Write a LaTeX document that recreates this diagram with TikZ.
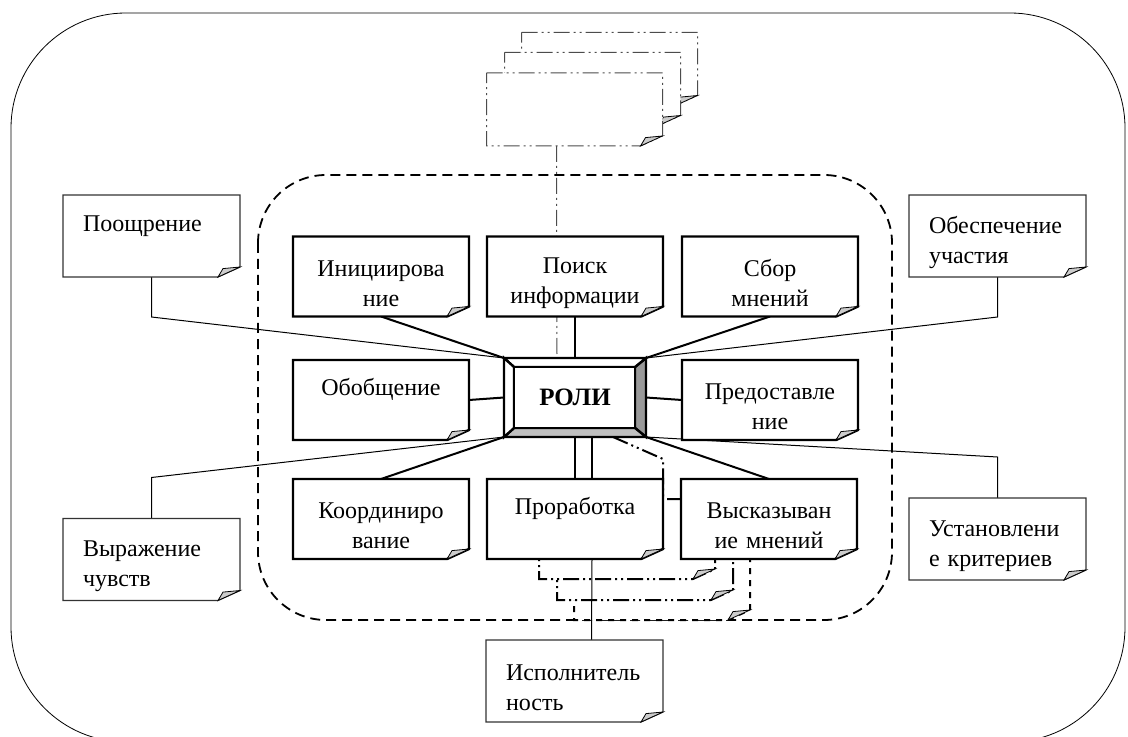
\documentclass[tikz,border=0pt]{standalone}
\usepackage{fontspec}
\setmainfont{Liberation Serif}
\usepackage{tikz}
\pgfdeclarelayer{back}
\pgfdeclarelayer{shapes}
\pgfsetlayers{back,shapes,main}
\tikzset{
every picture/.style={
line width=1pt
}}
\tikzset{
  rolebox/.style={minimum width=88pt, minimum height=40pt, text width=84pt,
    align=center, inner sep=0pt, outer sep=0pt,
    execute at begin node={\rule{0pt}{15pt}}},
  notebox/.style={minimum width=88.5pt, minimum height=41pt, text width=68.5pt,
    align=left, inner sep=0pt, outer sep=0pt,
    execute at begin node={\rule{0pt}{15pt}}},
  pagebox/.style={minimum width=88pt, minimum height=36.5pt, inner sep=0pt, outer sep=0pt},
  stackbox/.style={minimum width=88pt, minimum height=40pt, inner sep=0pt, outer sep=0pt},
  conn/.style={line width=1pt},
  thinconn/.style={line width=0.5pt},
  dashdotdot/.style={dash pattern=on 8pt off 2pt on 1pt off 2pt on 1pt off 2pt},
}
\newcommand{\foldpage}[2][]{%
  \filldraw[fill=white,#1] (#2.north west) -- (#2.north east) -- ([yshift=5pt]#2.south east)
    -- ([xshift=-11pt]#2.south east) -- (#2.south west) -- cycle;
  \filldraw[fill=gray!40,line width=0.4pt] ([xshift=-11pt]#2.south east)
    .. controls ([shift={(-9.5pt,2.5pt)}]#2.south east) .. ([shift={(-8.5pt,4.2pt)}]#2.south east)
    -- ([yshift=5pt]#2.south east) -- cycle;
}

\begin{document}
\begin{tikzpicture}[x=0.5pt,y=-0.5pt,font=\fontsize{12pt}{15pt}\selectfont]
\useasboundingbox (0,0) rectangle (1128,737);
% roles round the centre
\node[rolebox] (ini)    at (381,276.5) {Инициирова\\ние};
\node[rolebox] (poisk)  at (575,276.5) {Поиск\\информации};
\node[rolebox] (sbor)   at (770,276.5) {Сбор\\мнений};
\node[rolebox] (obob)   at (381,400)   {Обобщение\\\strut};
\node[minimum width=71pt, minimum height=39.5pt, inner sep=0pt, outer sep=0pt,
  font=\fontsize{12.5pt}{15pt}\selectfont\bfseries] (roli) at (575,397.5) {РОЛИ};
\node[rolebox] (pred)   at (770,400)   {Предоставле\\ние};
\node[rolebox] (koord)  at (381,519)   {Координиро\\вание};
\node[rolebox] (prorab) at (575,519)   {Проработка\\\strut};
\node[rolebox] (vysk)   at (769,519)   {Высказыван\\ие мнений};
% notes outside
\node[notebox] (poo) at (151.5,236)   {Поощрение\\\strut};
\node[notebox] (obe) at (997.5,236)   {Обеспечение\\участия};
\node[notebox] (vyr) at (151.5,559.5) {Выражение\\чувств};
\node[notebox] (ust) at (997.5,539)   {Установлени\\е критериев};
\node[notebox] (isp) at (574.5,681)   {Исполнитель\\ность};
% stacked pages
\node[pagebox] (pg3) at (609.5,69) {};
\node[pagebox] (pg2) at (592.5,89) {};
\node[pagebox] (pg1) at (574.5,109.5) {};
\node[stackbox] (sp1) at (627,539) {};
\node[stackbox] (sp2) at (645,560) {};
\node[stackbox] (sp3) at (662,580) {};
\coordinate (sbend) at (663,459);

\begin{pgfonlayer}{back}
  % frames
  \draw[rounded corners=57.5pt] (11,13) rectangle (1125,742);
  \draw[line width=0.9pt, dash pattern=on 5pt off 3pt, rounded corners=34pt]
    (258,175) rectangle (892,620);
  % pages under the bottom row
  \foldpage[dashed, line width=1pt]{sp3}
  \foldpage[dashdotdot, line width=1pt]{sp2}
  \foldpage[dashdotdot, line width=1pt]{sp1}
  % connectors
  \draw[conn] (ini.south) -- (roli.north west);
  \draw[conn] (poisk.south) -- (roli.north);
  \draw[conn] (sbor.south) -- (roli.north east);
  \draw[conn] (obob.east) -- (roli.west);
  \draw[conn] (roli.east) -- (pred.west);
  \draw[conn] (koord.north) -- (roli.south west);
  \draw[conn] (roli.south) -- (prorab.north);
  \draw[conn] (roli.south east) -- (vysk.north);
  \draw[conn] ([xshift=8.5pt]roli.south) -- ([xshift=8.5pt]prorab.north);
  \draw[thinconn] ([xshift=8.5pt]prorab.south) -- ([xshift=8.5pt]isp.north);
  \draw[conn, dashdotdot] ([xshift=19pt]roli.south) -- (sbend) -- (sbend |- sp1.north);
  \draw[thinconn, black!70, dashdotdot] ([xshift=-9pt]pg1.south) -- ([xshift=-9pt]roli.north);
  \draw[thinconn] (poo.south) -- ++(0,40) -- (roli.north west);
  \draw[thinconn] (obe.south) -- ++(0,40) -- (roli.north east);
  \draw[thinconn] (vyr.north) -- ++(0,-41) -- (roli.south west);
  \draw[thinconn] (ust.north) -- ++(0,-41) -- (roli.south east);
\end{pgfonlayer}

\begin{pgfonlayer}{shapes}
  \foreach \n in {pg3,pg2,pg1}
    {\foldpage[draw=black!70, dashdotdot, line width=0.5pt]{\n}}
  \foreach \n in {ini,poisk,sbor,obob,pred,koord,prorab,vysk}
    {\foldpage[line width=1.2pt]{\n}}
  \foreach \n in {poo,obe,vyr,ust,isp}
    {\foldpage[draw=black!80, line width=0.6pt]{\n}}
  % bevel of the centre box
  \coordinate (rnw) at ([shift={(5pt,-4.5pt)}]roli.north west);
  \coordinate (rne) at ([shift={(-5.5pt,-4.5pt)}]roli.north east);
  \coordinate (rse) at ([shift={(-5.5pt,4.5pt)}]roli.south east);
  \coordinate (rsw) at ([shift={(5pt,4.5pt)}]roli.south west);
  \begin{scope}[line width=1.2pt]
    \filldraw[fill=gray!80] (roli.north east) -- (roli.south east) -- (rse) -- (rne) -- cycle;
    \filldraw[fill=gray!50] (roli.south west) -- (roli.south east) -- (rse) -- (rsw) -- cycle;
    \filldraw[fill=white] (roli.north west) -- (roli.north east) -- (rne) -- (rnw) -- cycle;
    \filldraw[fill=white] (roli.north west) -- (rnw) -- (rsw) -- (roli.south west) -- cycle;
    \filldraw[fill=white] (rnw) rectangle (rse);
  \end{scope}
\end{pgfonlayer}
\end{tikzpicture}
\end{document}
